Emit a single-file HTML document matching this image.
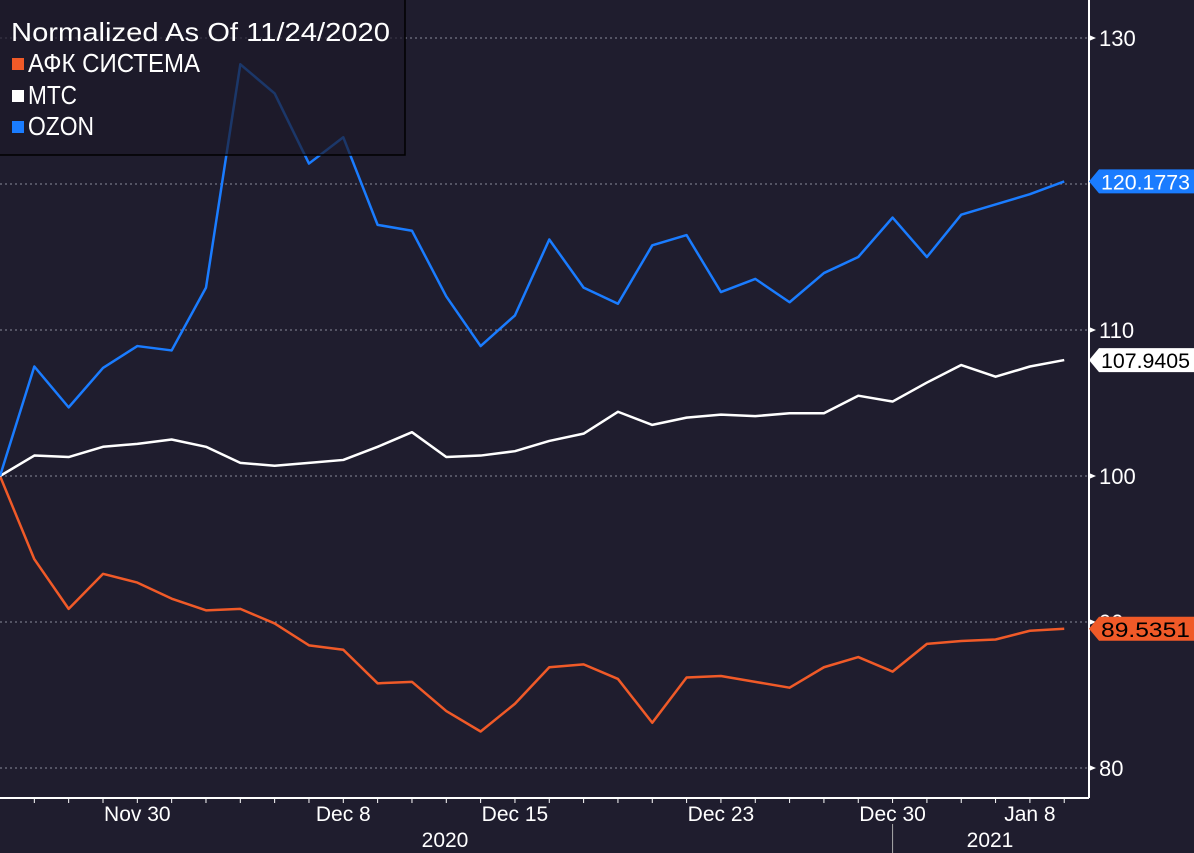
<!DOCTYPE html>
<html><head><meta charset="utf-8"><style>
body{margin:0;background:#1f1d2e;}
svg{display:block;font-family:"Liberation Sans","DejaVu Sans",sans-serif;}
</style></head><body>
<svg id="chart" width="1194" height="853">
<rect width="1194" height="853" fill="#1f1d2e"/>
<g id="grid"></g>
<g id="lines"></g>
<g id="axes"></g>
<g>
<rect x="-1" y="-1" width="406" height="156" fill="#1c1a2a" fill-opacity="0.7" stroke="#000" stroke-width="1.5"/>
<text x="11" y="41" fill="#fff" font-size="26" textLength="379" lengthAdjust="spacingAndGlyphs">Normalized As Of 11/24/2020</text>
<rect x="12" y="58" width="12" height="12" fill="#f05a28"/>
<text x="28" y="72" fill="#fff" font-size="26" textLength="172" lengthAdjust="spacingAndGlyphs">АФК СИСТЕМА</text>
<rect x="12" y="90" width="12" height="12" fill="#fff"/>
<text x="28" y="104" fill="#fff" font-size="26" textLength="49" lengthAdjust="spacingAndGlyphs">МТС</text>
<rect x="12" y="121" width="12" height="12" fill="#1a7cff"/>
<text x="28" y="135" fill="#fff" font-size="26" textLength="66" lengthAdjust="spacingAndGlyphs">OZON</text>
</g>
</svg>
<script>
const ozon=[100,107.5,104.7,107.4,108.9,108.6,112.9,128.2,126.2,121.4,123.2,117.2,116.8,112.3,108.9,111,116.2,112.9,111.8,115.8,116.5,112.6,113.5,111.9,113.9,115,117.7,115,117.9,118.6,119.3,120.1773];
const mts=[100,101.4,101.3,102,102.2,102.5,102,100.9,100.7,100.9,101.1,102,103,101.3,101.4,101.7,102.4,102.9,104.4,103.5,104,104.2,104.1,104.3,104.3,105.5,105.1,106.4,107.6,106.8,107.5,107.9405];
const afk=[100,94.3,90.9,93.3,92.7,91.6,90.8,90.9,89.9,88.4,88.1,85.8,85.9,83.9,82.5,84.4,86.9,87.1,86.1,83.1,86.2,86.3,85.9,85.5,86.9,87.6,86.6,88.5,88.7,88.8,89.4,89.5351];
const yTicks=[80,90,100,110,120,130];
const dateLabels=[[4,"Nov 30"],[10,"Dec 8"],[15,"Dec 15"],[21,"Dec 23"],[26,"Dec 30"],[30,"Jan 8"]];
const yearLabels=[["2020",445],["2021",990]];
const NS="http://www.w3.org/2000/svg";
const X=i=>i*34.33, Y=v=>476-(v-100)*14.6;
function mk(t,a,p){const e=document.createElementNS(NS,t);for(const k in a)e.setAttribute(k,a[k]);p.appendChild(e);return e;}
const grid=document.getElementById('grid'),lines=document.getElementById('lines'),axes=document.getElementById('axes');
yTicks.forEach(v=>{
 const g=mk('line',{x1:0,x2:1089,y1:Y(v),y2:Y(v),stroke:'#8a8a99','stroke-dasharray':'2,3','stroke-width':1},grid);
 
 
 if(v===120)return;
 const t=mk('text',{x:1099,y:Y(v)+8,fill:'#fff','font-size':22},axes);t.textContent=v;
 
 
 mk('path',{d:`M1089 ${Y(v)-3}L1096 ${Y(v)}L1089 ${Y(v)+3}Z`,fill:'#fff'},axes);
});
mk('line',{x1:0,x2:1089,y1:798,y2:798,stroke:'#fff','stroke-width':2},axes);
mk('line',{x1:1089,x2:1089,y1:0,y2:798,stroke:'#fff','stroke-width':2},axes);
for(let i=1;i<ozon.length;i++)mk('line',{x1:X(i),x2:X(i),y1:798,y2:803,stroke:'#fff'},axes);
dateLabels.forEach(([i,s])=>{const t=mk('text',{x:X(i),y:821,fill:'#fff','font-size':21,'text-anchor':'middle'},axes);t.textContent=s;
 
 });
yearLabels.forEach(([s,x])=>{const t=mk('text',{x:x,y:847,fill:'#fff','font-size':21,'text-anchor':'middle'},axes);t.textContent=s;
 
 });
mk('line',{x1:X(26),x2:X(26),y1:824,y2:853,stroke:'#aaa'},axes);
function series(d,c,name,lblBg,lblFg){
 const p=mk('polyline',{points:d.map((v,i)=>X(i)+','+Y(v)).join(' '),fill:'none',stroke:c,'stroke-width':2.5,'stroke-linejoin':'round'},lines);
 
 
 const y=Y(d[d.length-1]);
 const b=mk('path',{d:`M1089 ${y}L1099 ${y-12}L1194 ${y-12}L1194 ${y+12}L1099 ${y+12}Z`,fill:lblBg},axes);
 
 
 const t=mk('text',{x:1101,y:y+8,fill:lblFg,'font-size':21,textLength:89,lengthAdjust:'spacingAndGlyphs'},axes);t.textContent=d[d.length-1].toFixed(4);
 
 
}
series(afk,'#f05a28','afk','#f05a28','#000');
series(mts,'#ffffff','mts','#ffffff','#000');
series(ozon,'#1a7cff','ozon','#1a7cff','#fff');
</script>
</body></html>
